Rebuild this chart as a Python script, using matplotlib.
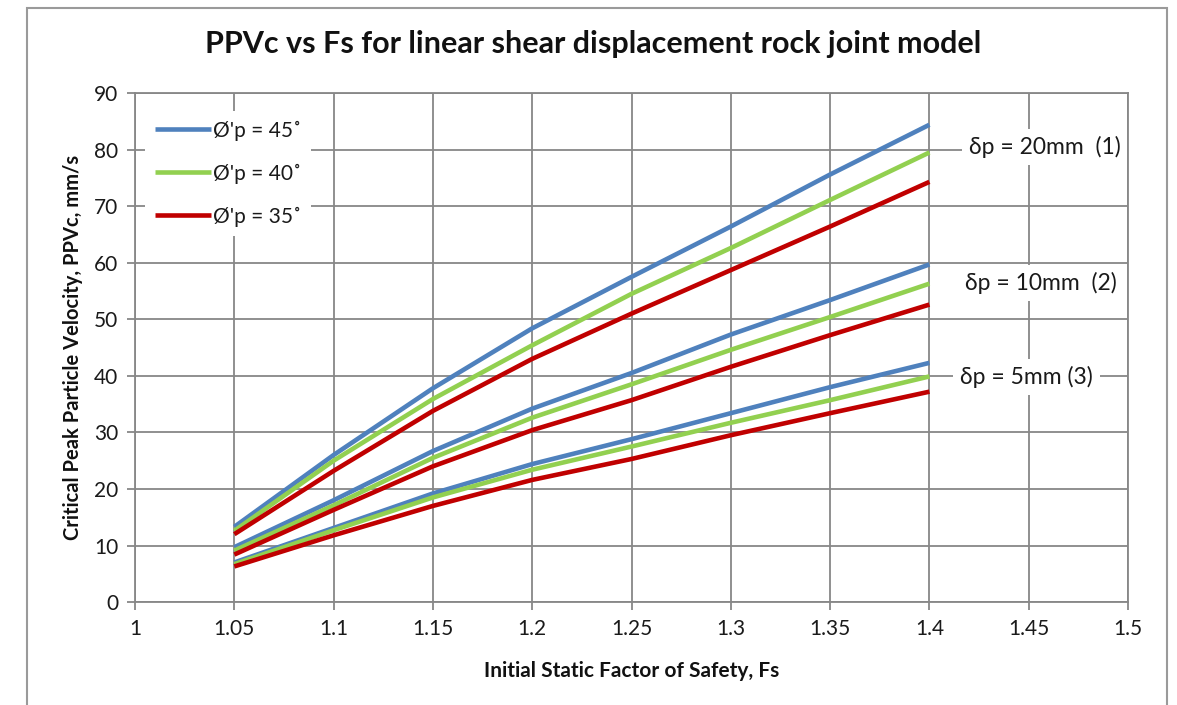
import matplotlib
matplotlib.use("Agg")
import matplotlib.pyplot as plt
from matplotlib.patches import Rectangle

plt.rcParams['font.family'] = ['Lato', 'DejaVu Sans']

fs = [1.05, 1.1, 1.15, 1.2, 1.25, 1.3, 1.35, 1.4]

# delta p = 20 mm
d20_45 = [13.3, 26.0, 37.8, 48.4, 57.5, 66.4, 75.6, 84.4]
d20_40 = [12.6, 25.0, 35.9, 45.4, 54.5, 62.6, 71.1, 79.5]
d20_35 = [12.0, 23.2, 33.8, 43.0, 51.0, 58.7, 66.4, 74.3]
# delta p = 10 mm
d10_45 = [9.7, 18.0, 26.7, 34.2, 40.5, 47.3, 53.4, 59.7]
d10_40 = [9.1, 17.1, 25.5, 32.6, 38.5, 44.6, 50.4, 56.3]
d10_35 = [8.4, 16.3, 24.0, 30.4, 35.7, 41.6, 47.2, 52.6]
# delta p = 5 mm
d5_45 = [7.0, 13.1, 19.2, 24.4, 28.8, 33.4, 38.0, 42.3]
d5_40 = [6.7, 12.7, 18.5, 23.4, 27.5, 31.7, 35.7, 39.9]
d5_35 = [6.3, 11.8, 17.0, 21.6, 25.3, 29.5, 33.4, 37.2]

legend_labels = ["\u00D8'p = 45\u02DA", "\u00D8'p = 40\u02DA", "\u00D8'p = 35\u02DA"]
group_labels = ["\u03B4p = 20mm  (1)", "\u03B4p = 10mm  (2)", "\u03B4p = 5mm (3)"]
group_label_pos = [(1.458, 80.4), (1.456, 56.4), (1.449, 39.8)]

x_ticks = [1, 1.05, 1.1, 1.15, 1.2, 1.25, 1.3, 1.35, 1.4, 1.45, 1.5]
x_tick_labels = ["1", "1.05", "1.1", "1.15", "1.2", "1.25", "1.3", "1.35", "1.4", "1.45", "1.5"]
y_ticks = [0, 10, 20, 30, 40, 50, 60, 70, 80, 90]

colors = ["#4F81BD", "#92D050", "#C00000"]
grid_c = "#878787"

fig = plt.figure(figsize=(11.77, 7.05), dpi=100)
fig.patches.append(Rectangle((0.023, -0.02), 0.9685, 1.0087, transform=fig.transFigure,
                             fill=False, edgecolor="#9a9a9a", linewidth=1.5))
ax = fig.add_axes([0.1147, 0.146, 0.8437, 0.722])

groups = [[d20_45, d20_40, d20_35], [d10_45, d10_40, d10_35], [d5_45, d5_40, d5_35]]
handles = []
for gi, g in enumerate(groups):
    for si, s in enumerate(g):
        ln, = ax.plot(fs, s, color=colors[si], linewidth=3.3, solid_capstyle='butt', zorder=3)
        if gi == 0:
            handles.append(ln)

ax.set_xlim(1, 1.5)
ax.set_ylim(0, 90)
ax.set_xticks(x_ticks)
ax.set_xticklabels(x_tick_labels)
ax.set_yticks(y_ticks)
ax.grid(True, color=grid_c, linewidth=1.3)
ax.set_axisbelow(True)
for sp in ax.spines.values():
    sp.set_color(grid_c)
    sp.set_linewidth(1.3)
ax.tick_params(axis='both', colors=grid_c, length=6, width=1.3, labelsize=15,
               labelcolor="#1a1a1a", pad=6)

for lab, (px, py) in zip(group_labels, group_label_pos):
    ax.text(px, py, lab, ha='center', va='center', fontsize=16.5, color="#1a1a1a",
            bbox=dict(facecolor='white', edgecolor='none', pad=5), zorder=4)

leg = ax.legend(handles, legend_labels, loc='upper left', bbox_to_anchor=(0.0, 0.985),
                fontsize=15, frameon=True, fancybox=False, framealpha=1,
                facecolor='white', edgecolor='none', handlelength=2.7,
                handletextpad=0.1, labelspacing=1.1, borderpad=0.45)
for t in leg.get_texts():
    t.set_color("#1a1a1a")

fig.suptitle("PPVc vs Fs for linear shear displacement rock joint model",
             x=0.504, y=0.958, fontsize=22, fontweight='bold', color="#111111")
ax.set_xlabel("Initial Static Factor of Safety, Fs", fontsize=15, fontweight='bold',
              color="#111111", labelpad=16)
ax.set_ylabel("Critical Peak Particle Velocity, PPVc, mm/s", fontsize=14.5, fontweight='bold',
              color="#111111", labelpad=8)

fig.savefig("out.png", dpi=100)
